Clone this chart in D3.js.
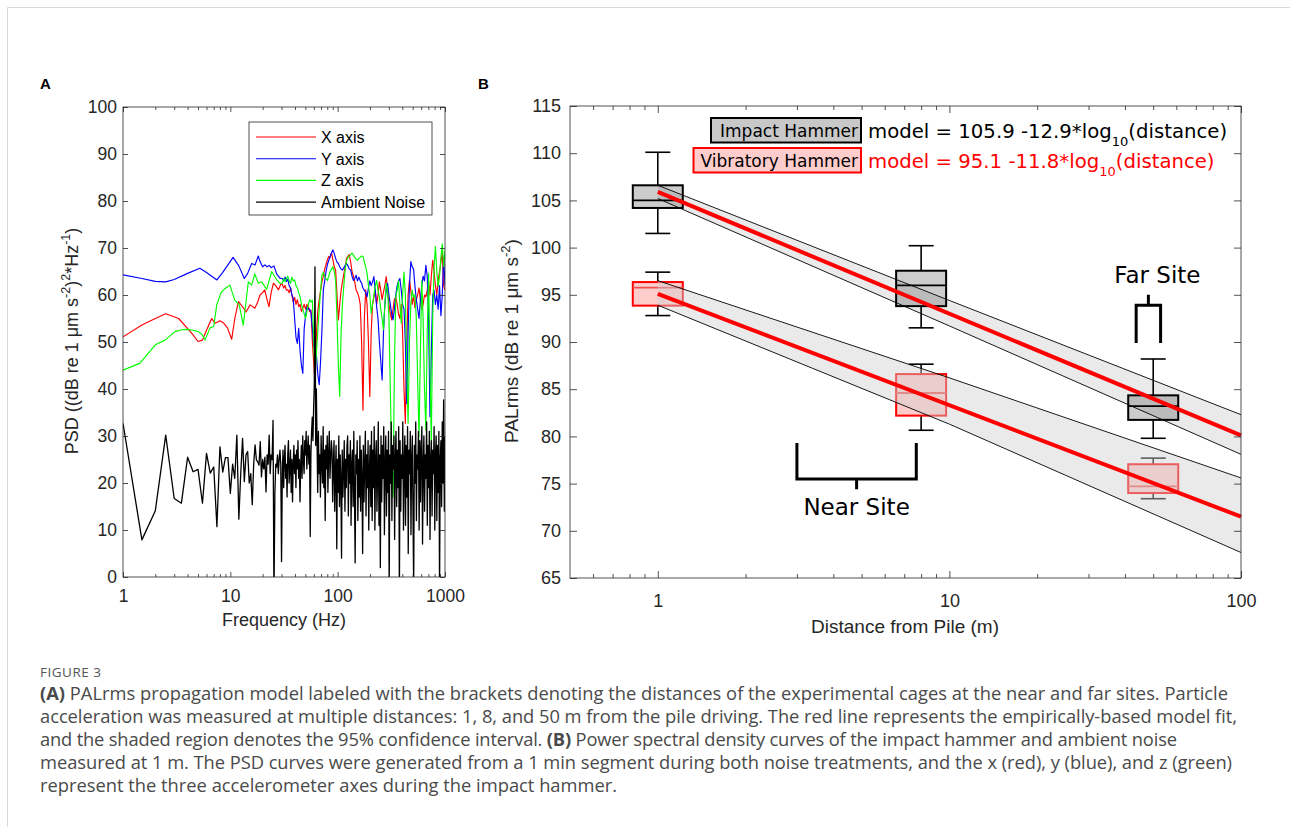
<!DOCTYPE html>
<html>
<head>
<meta charset="utf-8">
<script src="https://cdn.jsdelivr.net/npm/d3@7"></script>
<style>
  body { margin: 0; background: #fff; }
</style>
</head>
<body>
<script>
// ---------- panel A : PSD curves ----------
// low-frequency part, read point by point
var xAxisLowF = [1, 1.5, 2, 2.5, 3.3, 4.4, 5, 5.5, 6, 6.7, 7.2, 8, 8.6, 9.4, 10.3, 11, 11.9, 13, 14, 15.3, 16.9, 18, 18.9, 20, 20.9, 22, 22.9, 24, 25.2, 26.5, 28.1, 29.5];
var xAxisLowV = [51.1, 53.6, 55.0, 56.0, 55.0, 51.8, 50.1, 50.4, 52.5, 55.0, 54.0, 54.5, 54.1, 53.0, 50.6, 55.0, 58.6, 57.5, 56.4, 57.9, 57.2, 58.5, 60.0, 60.5, 61.1, 59.0, 57.5, 60.5, 62.5, 62.0, 61.1, 62.3];
var yAxisLowF = [1, 1.5, 2, 2.5, 3, 4, 5.2, 6, 7.5, 8.5, 10.6, 12, 13.5, 14.5, 15.8, 17, 18.2, 19, 20, 21, 22, 23, 24, 25.5, 27, 29];
var yAxisLowV = [64.3, 63.5, 62.9, 62.8, 63.3, 64.6, 65.7, 64.8, 63.2, 64.8, 68.0, 66.2, 63.5, 64.6, 66.7, 66.4, 68.3, 67.0, 66.0, 66.4, 66.0, 66.3, 65.8, 66.2, 64.5, 63.6];
var zAxisLowF = [1, 1.44, 2, 2.46, 3.05, 3.5, 3.92, 4.5, 5.04, 5.5, 5.8, 6.47, 7, 7.47, 8.2, 8.95, 9.9, 11, 12.1, 13.2, 14, 14.7, 15.8, 16.9, 18.2, 19.6, 21.8, 24.3, 27.1, 29];
var zAxisLowV = [44.0, 45.5, 49.4, 50.4, 52.2, 52.6, 52.7, 52.5, 52.2, 51.5, 50.4, 53.0, 53.3, 57.9, 60.5, 61.4, 62.1, 58.9, 57.9, 53.6, 58.5, 62.8, 62.1, 64.5, 62.5, 62.8, 61.2, 65.0, 63.2, 62.5];
var noiseLowF = d3.range(1, 30.25, 0.5);
var noiseLowV = [32.7, 7.9, 14.1, 30.2, 16.7, 15.7, 25.5, 22.4, 22.9, 15.7,
  26.3, 22.1, 23.4, 10.7, 27.7, 22.3, 25.4, 25.4, 17.8, 24,
  21, 30.2, 12.3, 22, 29.5, 20.3, 26, 26.7, 20, 22,
  15.4, 24, 28.1, 24.9, 24.5, 23.8, 28.8, 21.3, 25, 23,
  25.5, 18.1, 26, 24, 30.2, 22, 26, 25, 33.3, -5,
  17.8, 24, 23.4, 26, 22, 25, 27, 24, 3.3];

// high-frequency part (30.5 - 1000 Hz), values on a log-spaced frequency grid
var hiStart = 30.5, hiEnd = 1000;
var xAxisHiV = [62.3, 61.5, 62.0, 61.0, 61.1, 60.5, 61.5, 60.0, 58.5, 59.5,
  58.0, 59.0, 57.5, 58.0, 56.5, 57.2, 58.0, 57.0, 58.0, 57.5,
  56.5, 56.8, 50.0, 45.5, 40.5, 52.0, 56.8, 59.0, 61.0, 62.8,
  64.0, 65.5, 66.5, 67.5, 68.2, 68.0, 69.0, 67.5, 66.0, 65.3,
  60.0, 54.7, 58.0, 61.0, 62.8, 64.5, 66.0, 67.8, 68.2, 68.6,
  67.0, 65.0, 64.0, 62.8, 61.0, 60.5, 59.6, 58.0, 50.0, 35.5,
  55.0, 61.1, 58.0, 50.0, 38.4, 52.0, 58.0, 59.6, 61.0, 58.0,
  60.0, 62.8, 61.0, 59.0, 60.6, 62.0, 63.9, 61.0, 58.0, 56.0,
  54.7, 57.0, 59.0, 59.6, 58.0, 56.0, 55.0, 58.0, 52.0, 40.0,
  32.7, 50.0, 60.0, 63.1, 61.0, 58.0, 60.0, 57.3, 59.0, 60.0,
  61.5, 59.0, 57.0, 58.0, 60.0, 59.6, 61.0, 63.0, 60.0, 64.0,
  67.4, 65.0, 62.0, 60.0, 63.1, 65.0, 67.0, 69.0, 62.0, 61.0];
var yAxisHiV = [63.5, 63.0, 63.8, 62.9, 63.4, 62.0, 61.5, 60.0, 59.3, 55.0,
  51.0, 49.7, 52.9, 48.0, 45.0, 43.3, 52.9, 55.5, 57.5, 57.0,
  57.0, 56.2, 53.0, 49.0, 51.0, 47.0, 43.0, 40.9, 46.0, 52.6,
  61.1, 63.0, 65.0, 66.5, 67.4, 68.2, 69.0, 69.6, 68.8, 67.8,
  67.0, 66.7, 66.0, 65.5, 65.3, 65.8, 66.3, 66.7, 66.2, 65.5,
  65.3, 64.0, 63.1, 63.5, 64.2, 63.0, 63.8, 63.0, 62.5, 61.5,
  61.0, 60.5, 59.6, 61.5, 63.0, 62.0, 62.8, 63.9, 61.0, 57.5,
  55.0, 50.0, 46.0, 41.9, 52.0, 58.0, 61.0, 62.5, 60.0, 58.0,
  56.0, 54.7, 57.0, 60.0, 62.0, 63.0, 63.5, 61.0, 58.0, 57.0,
  50.0, 36.9, 52.0, 62.0, 67.1, 66.0, 65.5, 62.0, 59.0, 57.0,
  55.0, 59.0, 62.0, 64.0, 63.0, 66.3, 64.0, 55.0, 34.1, 48.0,
  60.0, 61.0, 58.0, 60.0, 57.0, 62.0, 55.6, 60.0, 68.0, 62.0];
var zAxisHiV = [62.5, 63.5, 62.8, 63.5, 64.0, 63.0, 62.5, 63.8, 63.0, 63.2,
  62.0, 61.5, 60.5, 59.6, 58.0, 57.0, 56.0, 55.0, 56.5, 58.0,
  59.0, 58.5, 58.9, 50.0, 42.6, 48.0, 52.6, 57.0, 61.0, 64.3,
  64.8, 64.0, 63.5, 63.1, 64.0, 65.0, 65.5, 66.0, 65.0, 63.1,
  55.0, 45.0, 38.4, 52.0, 58.2, 62.0, 65.5, 67.4, 68.0, 68.3,
  68.6, 68.9, 68.5, 68.0, 67.6, 67.4, 67.8, 68.0, 68.3, 68.2,
  67.0, 66.0, 64.6, 62.0, 60.0, 56.1, 58.0, 60.0, 62.0, 63.1,
  61.0, 59.6, 57.0, 55.0, 52.6, 58.0, 62.5, 61.0, 55.0, 40.0,
  25.0, 17.0, 45.0, 59.6, 61.0, 63.0, 58.0, 54.0, 60.0, 64.9,
  60.0, 45.0, 32.7, 50.0, 58.0, 61.0, 59.6, 60.0, 55.0, 42.0,
  29.9, 48.0, 63.0, 55.0, 40.0, 31.3, 52.0, 64.6, 45.0, 28.4,
  55.0, 66.0, 70.3, 65.0, 61.8, 64.0, 68.0, 70.9, 66.0, 69.5];
var noiseHiV = [22, 27, 19, 25, 28, 21, 24, 17, 26, 29, 20, 23, 27, 18, 25, 16, 24, 28, 22, 26, 19, 27, 23, 29, 21, 25, 16,
  24, 28, 21, 30, 25, 22, 29, 26, 31, 23, 27, 30, 24, 28, 8.6, 26, 31, 34, 29,
  36, 41, 66, 28, 40,
  29, 18, 31, 22, 26, 17, 30, 24, 20, 32, 19, 27, 12, 28, 23, 30, 18, 26, 31, 21, 25, 29,
  27, 16, 24, 29, 14, 22, 28, 6, 25, 18, 30, 15, 26, 21, 4, 27, 17, 23, 29, 14, 25, 19, 28,
  30, 13, 26, 20, 29, 11, 24, 27, 15, 31, 18, 3, 26, 22, 29, 12, 25, 17, 30, 14, 27, 21, 5, 28, 16, 24, 31, 13, 26, 19, 29, 10, 23, 28, 15,
  31, 12, 27, 19, 32, 10, 25, 29, 14, 22,
  33, 11, 26, 2, 30, 16, 28, 21, 32, 9,
  24, 30, 13, 27, 18, 31, -3, 26, 20, 33,
  12, 28, 23, 30, 8, 25, 31, 15, 27, 19,
  32, -4, 29, 14, 26, 21, 33, 10, 24, 30,
  11, 28, 17, 32, 5, 27, 22, 31, 9, 25,
  30, 13, -2, 28, 20, 33, 12, 26, 23, 31,
  10, 29, 16, 27, 32, 7, 24, 30, 14, 26,
  21, 33, 11, 28, 19, 31, 8, 25, 29, 13,
  27, 22, 32, 10, 26, 30, 12, 28, 18, 31,
  -3, 25, 29, 15, 33, 20, 37.7, 14, 30];

var legendA = ["X axis", "Y axis", "Z axis", "Ambient Noise"];
var yTicksA = [0, 10, 20, 30, 40, 50, 60, 70, 80, 90, 100];
var xTicksA = [1, 10, 100, 1000];
var xMinorA = [2, 3, 4, 5, 6, 7, 8, 9, 20, 30, 40, 50, 60, 70, 80, 90, 200, 300, 400, 500, 600, 700, 800, 900];

// ---------- panel B : PALrms vs distance ----------
var distances = [1, 8, 50];
var impactLo = [101.5, 91.5, 79.8];
var impactQ1 = [104.2, 93.8, 81.75];
var impactMed = [105.0, 96.0, 83.2];
var impactQ3 = [106.6, 97.55, 84.35];
var impactHi = [110.1, 100.2, 88.2];
var vibLo = [92.8, 80.65, 73.4];
var vibQ1 = [93.85, 82.2, 74.0];
var vibMed = [95.75, 84.6, 74.7];
var vibQ3 = [96.35, 86.6, 77.05];
var vibHi = [97.4, 87.65, 77.7];

var fitDist = [1, 100];
var impactFit = [105.9, 80.1];
var vibFit = [95.1, 71.5];
var ciDist = [1, 10, 100];
var impactCiUp = [106.6, 94.4, 82.3];
var impactCiLow = [105.2, 91.7, 78.1];
var vibCiUp = [96.5, 86.2, 75.6];
var vibCiLow = [93.9, 81.3, 67.7];

var yTicksB = [65, 70, 75, 80, 85, 90, 95, 100, 105, 110, 115];
var xTicksB = [1, 10, 100];
var xMinorB = [0.6, 0.7, 0.8, 0.9, 2, 3, 4, 5, 6, 7, 8, 9, 20, 30, 40, 50, 60, 70, 80, 90];

var captionLines = [
  [["(A)", true], [" PALrms propagation model labeled with the brackets denoting the distances of the experimental cages at the near and far sites. Particle", false]],
  [["acceleration was measured at multiple distances: 1, 8, and 50 m from the pile driving. The red line represents the empirically-based model fit,", false]],
  [["and the shaded region denotes the 95% confidence interval. ", false], ["(B)", true], [" Power spectral density curves of the impact hammer and ambient noise", false]],
  [["measured at 1 m. The PSD curves were generated from a 1 min segment during both noise treatments, and the x (red), y (blue), and z (green)", false]],
  [["represent the three accelerometer axes during the impact hammer.", false]]
];
var captionWidths = [1188, 1197, 1137, 1192, null];

// ---------- drawing ----------
var W = 1290, H = 827;
var FONT = "'Liberation Sans', Arial, Helvetica, sans-serif";
var DFONT = "'DejaVu Sans', Verdana, sans-serif";
var AX = "#262626";

var svg = d3.select("body").append("svg").attr("width", W).attr("height", H)
  .style("font-family", FONT);
svg.append("rect").attr("width", W).attr("height", H).attr("fill", "#fff");
svg.append("path").attr("d", "M7.5," + H + "V7.5H" + W)
  .attr("fill", "none").attr("stroke", "#d9d9d9");

function frame(g, x, y, o) {
  var L = x.range()[0], R = x.range()[1], B = y.range()[0], T = y.range()[1];
  function style(sel) {
    sel.attr("font-family", null).attr("font-size", null);
    sel.select(".domain").remove();
    sel.selectAll("line").attr("stroke", AX).attr("stroke-width", 0.8);
    sel.selectAll("text").attr("fill", AX).style("font-size", o.fs + "px");
  }
  g.append("g").attr("transform", "translate(0," + B + ")")
    .call(d3.axisBottom(x).tickValues(o.xMajor).tickSize(-o.major).tickPadding(o.xPad).tickFormat(d3.format("d"))).call(style);
  g.append("g").attr("transform", "translate(0," + B + ")")
    .call(d3.axisBottom(x).tickValues(o.xMinor).tickSize(-o.minor).tickFormat("")).call(style);
  g.append("g").attr("transform", "translate(0," + T + ")")
    .call(d3.axisTop(x).tickValues(o.xMajor).tickSize(-o.major).tickFormat("")).call(style);
  g.append("g").attr("transform", "translate(0," + T + ")")
    .call(d3.axisTop(x).tickValues(o.xMinor).tickSize(-o.minor).tickFormat("")).call(style);
  g.append("g").attr("transform", "translate(" + L + ",0)")
    .call(d3.axisLeft(y).tickValues(o.yTicks).tickSize(-o.major).tickPadding(o.yPad)).call(style);
  g.append("g").attr("transform", "translate(" + R + ",0)")
    .call(d3.axisRight(y).tickValues(o.yTicks).tickSize(-o.major).tickFormat("")).call(style);
  g.append("rect").attr("x", L).attr("y", T).attr("width", R - L).attr("height", B - T)
    .attr("fill", "none").attr("stroke", AX).attr("stroke-width", 0.8);
}

// label with super/subscripts: parts = [[text, shift]] shift: 0 normal, -1 sup, 1 sub
function richText(t, parts, fs, small) {
  var cur = 0;
  parts.forEach(function(p) {
    var sh = p[1] * (fs * 0.42);
    t.append("tspan").attr("dy", sh - cur).style("font-size", (p[1] ? small : fs) + "px").text(p[0]);
    cur = sh;
  });
}

// ===== Panel A =====
var xA = d3.scaleLog().domain([1, 1000]).range([123, 445]);
var yA = d3.scaleLinear().domain([0, 100]).range([577, 107]);
var gA = svg.append("g");
gA.append("clipPath").attr("id", "clipA").append("rect")
  .attr("x", 123).attr("y", 107).attr("width", 322).attr("height", 470);

function hiGrid(vals) {
  return vals.map(function(v, i) {
    return [hiStart * Math.pow(hiEnd / hiStart, i / (vals.length - 1)), v];
  });
}
function join(f, v, hi) {
  return f.map(function(d, i) { return [d, v[i]]; }).concat(hiGrid(hi));
}
var seriesA = [
  { name: legendA[0], color: "#ff0000", w: 1.15, pts: join(xAxisLowF, xAxisLowV, xAxisHiV) },
  { name: legendA[1], color: "#0000ff", w: 1.15, pts: join(yAxisLowF, yAxisLowV, yAxisHiV) },
  { name: legendA[2], color: "#00ff00", w: 1.15, pts: join(zAxisLowF, zAxisLowV, zAxisHiV) },
  { name: legendA[3], color: "#000000", w: 1.3, pts: join(noiseLowF, noiseLowV, noiseHiV) }
];
var lineA = d3.line().x(function(d) { return xA(d[0]); }).y(function(d) { return yA(d[1]); });
gA.append("g").attr("clip-path", "url(#clipA)").selectAll("path").data(seriesA).enter()
  .append("path").attr("d", function(d) { return lineA(d.pts); })
  .attr("fill", "none").attr("stroke", function(d) { return d.color; })
  .attr("stroke-width", function(d) { return d.w; }).attr("stroke-linejoin", "round");

frame(gA, xA, yA, { xMajor: xTicksA, xMinor: xMinorA, yTicks: yTicksA, major: 5, minor: 3, fs: 17.5, xPad: 13, yPad: 6 });

// legend A
var lg = gA.append("g");
lg.append("rect").attr("x", 249).attr("y", 122).attr("width", 183).attr("height", 93)
  .attr("fill", "#fff").attr("stroke", AX).attr("stroke-width", 0.8);
seriesA.forEach(function(s, i) {
  var yy = 137 + i * 21.7;
  lg.append("line").attr("x1", 256).attr("x2", 316).attr("y1", yy).attr("y2", yy)
    .attr("stroke", s.color).attr("stroke-width", 1.1);
  lg.append("text").attr("x", 321).attr("y", yy + 5.8).style("font-size", "16px").attr("fill", "#000").text(s.name);
});

gA.append("text").attr("x", 284).attr("y", 626).attr("text-anchor", "middle")
  .style("font-size", "18px").attr("fill", AX).text("Frequency (Hz)");
var ylA = gA.append("text").attr("transform", "translate(78,341) rotate(-90)")
  .attr("text-anchor", "middle").attr("fill", AX);
richText(ylA, [["PSD ((dB re 1 \u03bcm s", 0], ["-2", -1], [")", 0], ["2", -1], ["*Hz", 0], ["-1", -1], [")", 0]], 18, 12.5);

svg.append("text").attr("x", 40).attr("y", 89).style("font-size", "15px").style("font-weight", "bold").text("A");

// ===== Panel B =====
var xB = d3.scaleLog().domain([0.5, 100]).range([570, 1241]);
var yB = d3.scaleLinear().domain([65, 115]).range([578, 106]);
var gB = svg.append("g");
var BOXW = 50, CAPW = 25;

function boxes(g, lo, q1, med, q3, hi, st) {
  distances.forEach(function(d, i) {
    var cx = xB(d);
    var bg = g.append("g");
    [[hi[i], q3[i]], [q1[i], lo[i]]].forEach(function(w) {
      bg.append("line").attr("x1", cx).attr("x2", cx).attr("y1", yB(w[0])).attr("y2", yB(w[1]))
        .attr("stroke", "#000").attr("stroke-width", 1.6);
    });
    [hi[i], lo[i]].forEach(function(v) {
      bg.append("line").attr("x1", cx - CAPW / 2).attr("x2", cx + CAPW / 2).attr("y1", yB(v)).attr("y2", yB(v))
        .attr("stroke", "#000").attr("stroke-width", 1.6);
    });
    bg.append("rect").attr("x", cx - BOXW / 2).attr("width", BOXW)
      .attr("y", yB(q3[i])).attr("height", yB(q1[i]) - yB(q3[i]))
      .attr("fill", st.fill).attr("stroke", st.stroke).attr("stroke-width", 2);
    bg.append("line").attr("x1", cx - BOXW / 2).attr("x2", cx + BOXW / 2).attr("y1", yB(med[i])).attr("y2", yB(med[i]))
      .attr("stroke", st.median).attr("stroke-width", 1.8);
  });
}
function band(g, up, low) {
  var pts = ciDist.map(function(d, i) { return { d: d, up: up[i], low: low[i] }; });
  g.append("path").datum(pts)
    .attr("d", d3.area().x(function(p) { return xB(p.d); }).y0(function(p) { return yB(p.low); }).y1(function(p) { return yB(p.up); }))
    .attr("fill", "rgb(208,208,208)").attr("fill-opacity", 0.45);
  ["up", "low"].forEach(function(k) {
    g.append("path").datum(pts)
      .attr("d", d3.line().x(function(p) { return xB(p.d); }).y(function(p) { return yB(p[k]); }))
      .attr("fill", "none").attr("stroke", "#000").attr("stroke-width", 0.9);
  });
}
function fitLine(g, v) {
  g.append("path").datum(fitDist.map(function(d, i) { return [d, v[i]]; }))
    .attr("d", d3.line().x(function(p) { return xB(p[0]); }).y(function(p) { return yB(p[1]); }))
    .attr("fill", "none").attr("stroke", "#ff0000").attr("stroke-width", 4);
}

boxes(gB, vibLo, vibQ1, vibMed, vibQ3, vibHi, { fill: "#ffcccc", stroke: "#ff0000", median: "#f05050" });
band(gB, vibCiUp, vibCiLow);
band(gB, impactCiUp, impactCiLow);
boxes(gB, impactLo, impactQ1, impactMed, impactQ3, impactHi, { fill: "rgba(0,0,0,0.2)", stroke: "#000", median: "#000" });
fitLine(gB, vibFit);
fitLine(gB, impactFit);

frame(gB, xB, yB, { xMajor: xTicksB, xMinor: xMinorB, yTicks: yTicksB, major: 7, minor: 4, fs: 18, xPad: 16, yPad: 9 });

// brackets
var near = { x0: 3, x1: 7.7, top: 79.3, bot: 75.5, tick: 74.4 };
var far = { x0: 43.7, x1: 53, top: 93.9, bot: 89.9, tick: 95 };
function bracket(b, down) {
  var xm = (xB(b.x0) + xB(b.x1)) / 2;
  var p = down
    ? "M" + xB(b.x0) + "," + yB(b.top) + "V" + yB(b.bot) + "H" + xB(b.x1) + "V" + yB(b.top) + "M" + xm + "," + yB(b.bot) + "V" + yB(b.tick)
    : "M" + xB(b.x0) + "," + yB(b.bot) + "V" + yB(b.top) + "H" + xB(b.x1) + "V" + yB(b.bot) + "M" + xm + "," + yB(b.top) + "V" + yB(b.tick);
  gB.append("path").attr("d", p).attr("fill", "none").attr("stroke", "#000").attr("stroke-width", 3);
  return xm;
}
var nx = bracket(near, true);
var fx = bracket(far, false);
gB.append("text").attr("x", nx).attr("y", 515).attr("text-anchor", "middle")
  .style("font-family", DFONT).style("font-size", "23px").text("Near Site");
gB.append("text").attr("x", fx + 9).attr("y", 283).attr("text-anchor", "middle")
  .style("font-family", DFONT).style("font-size", "23px").text("Far Site");

// legend B
var legB = [
  { label: "Impact Hammer", fill: "#c8c8c8", stroke: "#000", color: "#000", model: "model = 105.9 -12.9*log", x: 711, y: 118 },
  { label: "Vibratory Hammer", fill: "#ffcccc", stroke: "#ff0000", color: "#ff0000", model: "model = 95.1 -11.8*log", x: 693.5, y: 148 }
];
legB.forEach(function(l) {
  gB.append("rect").attr("x", l.x).attr("y", l.y).attr("width", 861 - l.x).attr("height", 24.5)
    .attr("fill", l.fill).attr("stroke", l.stroke).attr("stroke-width", 2);
  gB.append("text").attr("x", 858).attr("y", l.y + 18.5).attr("text-anchor", "end")
    .style("font-family", DFONT).style("font-size", "17px").attr("fill", "#000").text(l.label);
  var t = gB.append("text").attr("x", 868).attr("y", l.y + 19.5)
    .style("font-family", DFONT).attr("fill", l.color);
  richText(t, [[l.model, 0], ["10", 1], ["(distance)", 0]], 19.7, 13);
});

gB.append("text").attr("x", 905).attr("y", 633).attr("text-anchor", "middle")
  .style("font-size", "19px").attr("fill", AX).text("Distance from Pile (m)");
var ylB = gB.append("text").attr("transform", "translate(518,341) rotate(-90)")
  .attr("text-anchor", "middle").attr("fill", AX);
richText(ylB, [["PALrms (dB re 1 \u03bcm s", 0], ["-2", -1], [")", 0]], 19, 13);

svg.append("text").attr("x", 478).attr("y", 89).style("font-size", "15px").style("font-weight", "bold").text("B");

// ===== caption =====
var CFONT = "'Open Sans', 'Noto Sans', sans-serif";
svg.append("text").attr("x", 40).attr("y", 677).style("font-family", CFONT)
  .style("font-size", "13.5px").style("letter-spacing", "0.5px").attr("fill", "#555").text("FIGURE 3");
var capTexts = captionLines.map(function(line, i) {
  var t = svg.append("text").attr("x", 40).attr("y", 700 + i * 23)
    .style("font-family", CFONT).style("font-size", "16px").attr("fill", "#4a4a4a");
  line.forEach(function(seg) {
    t.append("tspan").style("font-weight", seg[1] ? "bold" : "normal").text(seg[0]);
  });
  return t;
});
var capFs = 16 * captionWidths[0] / capTexts[0].node().getComputedTextLength();
capTexts.forEach(function(t, i) {
  t.style("font-size", capFs + "px");
  if (captionWidths[i]) t.attr("textLength", captionWidths[i]).attr("lengthAdjust", "spacing");
});
</script>
</body>
</html>
